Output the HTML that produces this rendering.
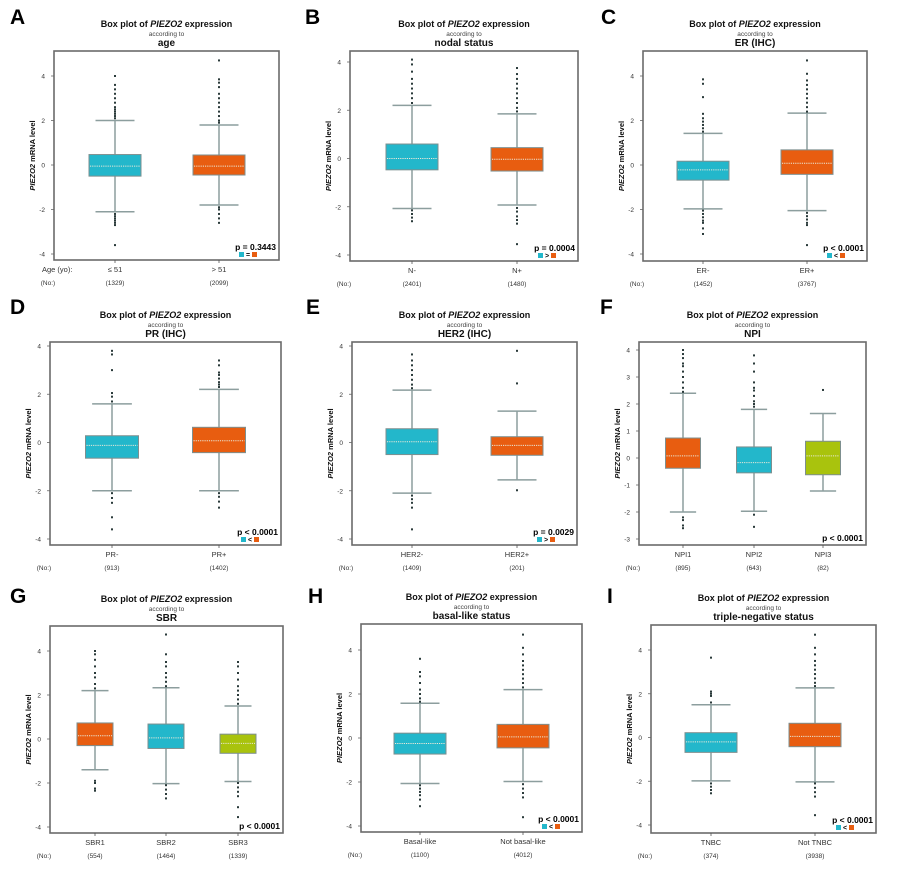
<!DOCTYPE html>
<html><head><meta charset="utf-8">
<style>
html,body{margin:0;padding:0;background:#fff;}
svg{display:block;font-family:"Liberation Sans",Arial,sans-serif;}
</style></head>
<body>
<svg id="fig" width="900" height="877" viewBox="0 0 900 877" xmlns="http://www.w3.org/2000/svg"></svg>
<script>
// ---- data ----
const catsA=["≤ 51","> 51"]; const nA=["(1329)","(2099)"];
const q1A=[-0.5,-0.45]; const medA=[-0.05,-0.05]; const q3A=[0.47,0.45]; const loA=[-2.1,-1.8]; const hiA=[2.0,1.8];
const outA=[[2.1,2.2,2.3,2.4,2.5,2.6,2.8,3.0,3.2,3.4,3.6,4.0,-2.2,-2.3,-2.4,-2.5,-2.6,-2.7,-3.6],[1.9,2.0,2.2,2.4,2.6,2.8,3.0,3.2,3.5,3.7,3.85,4.7,-1.9,-2.0,-2.2,-2.4,-2.6]];
const catsB=["N-","N+"]; const nB=["(2401)","(1480)"];
const q1B=[-0.47,-0.52]; const medB=[0,-0.03]; const q3B=[0.6,0.45]; const loB=[-2.07,-1.93]; const hiB=[2.2,1.85];
const outB=[[2.3,2.5,2.7,2.9,3.1,3.3,3.6,3.9,4.1,-2.15,-2.3,-2.45,-2.6],[1.95,2.1,2.3,2.5,2.7,2.9,3.1,3.3,3.5,3.75,-2.05,-2.2,-2.4,-2.55,-2.7,-3.55]];
const catsC=["ER-","ER+"]; const nC=["(1452)","(3767)"];
const q1C=[-0.68,-0.42]; const medC=[-0.22,0.08]; const q3C=[0.17,0.68]; const loC=[-1.97,-2.05]; const hiC=[1.42,2.33];
const outC=[[1.5,1.65,1.8,1.95,2.1,2.3,3.05,3.65,3.85,-2.05,-2.2,-2.35,-2.5,-2.6,-2.85,-3.1],[2.4,2.6,2.8,3.0,3.2,3.4,3.6,3.8,4.1,4.7,-2.15,-2.3,-2.45,-2.6,-2.7,-3.6]];
const catsD=["PR-","PR+"]; const nD=["(913)","(1402)"];
const q1D=[-0.65,-0.42]; const medD=[-0.12,0.07]; const q3D=[0.28,0.63]; const loD=[-2.0,-2.0]; const hiD=[1.6,2.2];
const outD=[[1.7,1.9,2.05,3.0,3.65,3.8,-2.1,-2.3,-2.5,-3.1,-3.6],[2.3,2.4,2.5,2.65,2.8,2.9,3.2,3.4,-2.1,-2.25,-2.45,-2.7]];
const catsE=["HER2-","HER2+"]; const nE=["(1409)","(201)"];
const q1E=[-0.5,-0.53]; const medE=[0.03,-0.12]; const q3E=[0.57,0.24]; const loE=[-2.1,-1.55]; const hiE=[2.17,1.3];
const outE=[[2.25,2.4,2.6,2.8,3.0,3.2,3.4,3.65,-2.2,-2.35,-2.5,-2.7,-3.6],[2.45,3.8,-1.98]];
const catsF=["NPI1","NPI2","NPI3"]; const nF=["(895)","(643)","(82)"];
const q1F=[-0.38,-0.55,-0.62]; const medF=[0.08,-0.17,0.08]; const q3F=[0.74,0.41,0.62]; const loF=[-2.0,-1.97,-1.22]; const hiF=[2.4,1.8];
hiF.push(1.65);
const outF=[[2.45,2.6,2.8,3.0,3.2,3.4,3.5,3.7,3.85,4.0,-2.2,-2.3,-2.5,-2.6],[1.9,2.0,2.1,2.3,2.5,2.6,2.8,3.2,3.5,3.8,-2.1,-2.55],[2.52]];
const catsG=["SBR1","SBR2","SBR3"]; const nG=["(554)","(1464)","(1339)"];
const q1G=[-0.3,-0.43,-0.65]; const medG=[0.15,0.05,-0.2]; const q3G=[0.73,0.68,0.22]; const loG=[-1.4,-2.03,-1.93]; const hiG=[2.2,2.33,1.5];
const outG=[[2.3,2.5,2.8,3.0,3.3,3.6,3.85,4.0,-1.9,-2.0,-2.25,-2.35],[2.4,2.6,2.8,3.0,3.3,3.5,3.85,4.75,-2.1,-2.3,-2.5,-2.7],[1.6,1.8,2.0,2.2,2.4,2.7,3.0,3.3,3.5,-2.0,-2.2,-2.4,-2.6,-3.1,-3.55]];
const catsH=["Basal-like","Not basal-like"]; const nH=["(1100)","(4012)"];
const q1H=[-0.73,-0.45]; const medH=[-0.25,0.05]; const q3H=[0.22,0.62]; const loH=[-2.07,-1.98]; const hiH=[1.58,2.2];
const outH=[[1.65,1.8,2.0,2.2,2.5,2.8,3.0,3.6,-2.15,-2.3,-2.45,-2.6,-2.8,-3.1],[2.3,2.5,2.7,2.9,3.1,3.3,3.5,3.8,4.1,4.7,-2.1,-2.3,-2.5,-2.7,-3.6]];
const catsI=["TNBC","Not TNBC"]; const nI=["(374)","(3938)"];
const q1I=[-0.68,-0.42]; const medI=[-0.2,0.05]; const q3I=[0.22,0.65]; const loI=[-1.98,-2.03]; const hiI=[1.5,2.27];
const outI=[[1.6,1.9,2.0,2.1,3.65,-2.1,-2.25,-2.4,-2.55],[2.35,2.5,2.7,2.9,3.1,3.3,3.5,3.8,4.1,4.7,-2.1,-2.3,-2.5,-2.7,-3.55]];
const ticks5=[-4,-2,0,2,4]; const ticksF=[-3,-2,-1,0,1,2,3,4];

const TEAL="#23b7cb",ORANGE="#e85d10",GREEN="#a9c30d";
// ---- layout (geometry only) ----
const layout=[
 {L:"A",lx:10,ly:24,x0:54,x1:279,y0:51,y1:260,vTop:4,pTop:76,vBot:-4,pBot:254,cx:[115,219],bw:52,sub:"age",cats:catsA,n:nA,q1:q1A,med:medA,q3:q3A,lo:loA,hi:hiA,out:outA,col:[TEAL,ORANGE],ticks:ticks5,p:"p = 0.3443",sym:"=",extra:"Age (yo):"},
 {L:"B",lx:305,ly:24,x0:350,x1:578,y0:51,y1:261,vTop:4,pTop:62,vBot:-4,pBot:255,cx:[412,517],bw:52,sub:"nodal status",cats:catsB,n:nB,q1:q1B,med:medB,q3:q3B,lo:loB,hi:hiB,out:outB,col:[TEAL,ORANGE],ticks:ticks5,p:"p = 0.0004",sym:">"},
 {L:"C",lx:601,ly:24,x0:643,x1:867,y0:51,y1:261,vTop:4,pTop:76,vBot:-4,pBot:254,cx:[703,807],bw:52,sub:"ER (IHC)",cats:catsC,n:nC,q1:q1C,med:medC,q3:q3C,lo:loC,hi:hiC,out:outC,col:[TEAL,ORANGE],ticks:ticks5,p:"p < 0.0001",sym:"<"},
 {L:"D",lx:10,ly:314,x0:50,x1:281,y0:342,y1:545,vTop:4,pTop:346,vBot:-4,pBot:539,cx:[112,219],bw:53,sub:"PR (IHC)",cats:catsD,n:nD,q1:q1D,med:medD,q3:q3D,lo:loD,hi:hiD,out:outD,col:[TEAL,ORANGE],ticks:ticks5,p:"p < 0.0001",sym:"<"},
 {L:"E",lx:306,ly:314,x0:352,x1:577,y0:342,y1:545,vTop:4,pTop:346,vBot:-4,pBot:539,cx:[412,517],bw:52,sub:"HER2 (IHC)",cats:catsE,n:nE,q1:q1E,med:medE,q3:q3E,lo:loE,hi:hiE,out:outE,col:[TEAL,ORANGE],ticks:ticks5,p:"p = 0.0029",sym:">"},
 {L:"F",lx:600,ly:314,x0:639,x1:866,y0:342,y1:545,vTop:4,pTop:350,vBot:-3,pBot:539,cx:[683,754,823],bw:35,sub:"NPI",cats:catsF,n:nF,q1:q1F,med:medF,q3:q3F,lo:loF,hi:hiF,out:outF,col:[ORANGE,TEAL,GREEN],ticks:ticksF,p:"p < 0.0001",sym:null},
 {L:"G",lx:10,ly:603,x0:50,x1:283,y0:626,y1:833,vTop:4,pTop:651,vBot:-4,pBot:827,cx:[95,166,238],bw:36,sub:"SBR",cats:catsG,n:nG,q1:q1G,med:medG,q3:q3G,lo:loG,hi:hiG,out:outG,col:[ORANGE,TEAL,GREEN],ticks:ticks5,p:"p < 0.0001",sym:null},
 {L:"H",lx:308,ly:603,x0:361,x1:582,y0:624,y1:832,vTop:4,pTop:650,vBot:-4,pBot:826,cx:[420,523],bw:52,sub:"basal-like status",cats:catsH,n:nH,q1:q1H,med:medH,q3:q3H,lo:loH,hi:hiH,out:outH,col:[TEAL,ORANGE],ticks:ticks5,p:"p < 0.0001",sym:"<"},
 {L:"I",lx:607,ly:603,x0:651,x1:876,y0:625,y1:833,vTop:4,pTop:650,vBot:-4,pBot:825,cx:[711,815],bw:52,sub:"triple-negative status",cats:catsI,n:nI,q1:q1I,med:medI,q3:q3I,lo:loI,hi:hiI,out:outI,col:[TEAL,ORANGE],ticks:ticks5,p:"p < 0.0001",sym:"<"}
];
const NS="http://www.w3.org/2000/svg";
const svg=document.getElementById("fig");
function mk(tag,attrs,parent,text){const e=document.createElementNS(NS,tag);for(const k in attrs)e.setAttribute(k,attrs[k]);if(text!=null)e.textContent=text;(parent||svg).appendChild(e);return e;}
layout.forEach(P=>{
  const g=mk("g",{});
  
  
  const y=v=>P.pBot+(v-P.vBot)*(P.pTop-P.pBot)/(P.vTop-P.vBot);
  const cxm=(P.x0+P.x1)/2;
  let t=mk("text",{x:P.lx,y:P.ly,"font-size":21,"font-weight":"bold",fill:"#000"},g,P.L);
  
  
  t=mk("text",{x:cxm,y:P.y0-24,"font-size":9,"font-weight":"bold","text-anchor":"middle",fill:"#111"},g);
  
  
  mk("tspan",{},t,"Box plot of ");mk("tspan",{"font-style":"italic"},t,"PIEZO2");mk("tspan",{},t," expression");
  t=mk("text",{x:cxm,y:P.y0-15,"font-size":6.5,"text-anchor":"middle",fill:"#444"},g,"according to");
  
  
  t=mk("text",{x:cxm,y:P.y0-5,"font-size":10,"font-weight":"bold","text-anchor":"middle",fill:"#111"},g,P.sub);
  
  
  // frame
  let r=mk("rect",{x:P.x0,y:P.y0,width:P.x1-P.x0,height:P.y1-P.y0,fill:"none",stroke:"#6a6a6a","stroke-width":1.6},g);
  
  
  // y ticks
  P.ticks.forEach(v=>{
    mk("line",{x1:P.x0-3,x2:P.x0,y1:y(v),y2:y(v),stroke:"#666","stroke-width":0.8},g);
    const tt=mk("text",{x:P.x0-9,y:y(v)+2.5,"font-size":6.5,"text-anchor":"end",fill:"#333"},g,String(v));
    
    
  });
  t=mk("text",{transform:`translate(${P.x0-19},${(P.y0+P.y1)/2}) rotate(-90)`,"font-size":7.5,"font-weight":"bold","text-anchor":"middle",fill:"#111"},g);
  
  
  mk("tspan",{"font-style":"italic"},t,"PIEZO2");mk("tspan",{},t," mRNA level");
  // boxes
  P.cats.forEach((c,i)=>{
    const x=P.cx[i],hw=P.bw/2,col=P.col[i];
    const bg=mk("g",{},g);
    
    
    mk("line",{x1:x,x2:x,y1:y(P.hi[i]),y2:y(P.lo[i]),stroke:"#8c9e9e","stroke-width":1.5},bg);
    mk("line",{x1:x-hw*0.75,x2:x+hw*0.75,y1:y(P.hi[i]),y2:y(P.hi[i]),stroke:"#8c9e9e","stroke-width":1.5},bg);
    mk("line",{x1:x-hw*0.75,x2:x+hw*0.75,y1:y(P.lo[i]),y2:y(P.lo[i]),stroke:"#8c9e9e","stroke-width":1.5},bg);
    mk("rect",{x:x-hw,y:y(P.q3[i]),width:P.bw,height:y(P.q1[i])-y(P.q3[i]),fill:col,stroke:"#7d8f8f","stroke-width":1},bg);
    mk("line",{x1:x-hw+1,x2:x+hw-1,y1:y(P.med[i]),y2:y(P.med[i]),stroke:"#e8e8d8","stroke-width":1,"stroke-dasharray":"1.2,1"},bg);
    P.out[i].forEach(v=>{mk("rect",{x:x-1,y:y(v)-1,width:2,height:2,fill:"#2a3a3a"},bg);});
    mk("line",{x1:x,x2:x,y1:P.y1,y2:P.y1+3,stroke:"#555","stroke-width":0.8},g);
    let ct=mk("text",{x:x,y:P.y1+12,"font-size":7.5,"text-anchor":"middle",fill:"#333"},g,c);
    
    
    ct=mk("text",{x:x,y:P.y1+25,"font-size":6.5,"text-anchor":"middle",fill:"#333"},g,P.n[i]);
    
    
  });
  t=mk("text",{x:P.x0-6,y:P.y1+25,"font-size":6.5,"text-anchor":"middle",fill:"#333"},g,"(No:)");
  
  
  if(P.extra){t=mk("text",{x:P.x0-12,y:P.y1+12,"font-size":7.5,"text-anchor":"start",fill:"#333"},g,P.extra);
    
    }
  // p value
  const py=P.sym?P.y1-10:P.y1-4;
  t=mk("text",{x:P.x1-3,y:py,"font-size":8.5,"font-weight":"bold","text-anchor":"end",fill:"#000"},g,P.p);
  
  
  if(P.sym){
    const lx=P.x1-40;
    const lg=mk("g",{},g);
    
    
    mk("rect",{x:lx,y:P.y1-8,width:5,height:5,fill:P.col[0]},lg);
    mk("text",{x:lx+9,y:P.y1-3,"font-size":7,"font-weight":"bold","text-anchor":"middle",fill:"#000"},lg,P.sym);
    mk("rect",{x:lx+13,y:P.y1-8,width:5,height:5,fill:P.col[1]},lg);
  }
});
</script>
</body></html>
